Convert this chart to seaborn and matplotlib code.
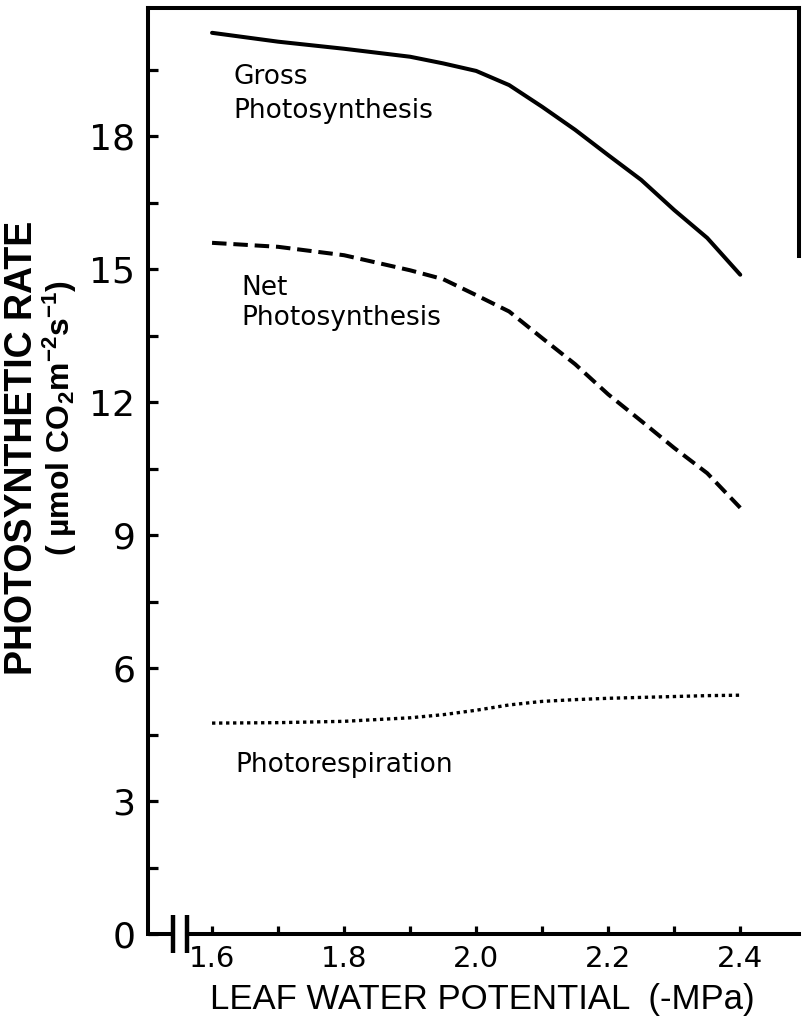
import matplotlib
matplotlib.use("Agg")
import numpy as np
import pandas as pd
import matplotlib.pyplot as plt
import seaborn as sns

# leaf water potential (-MPa)
potential = [1.60, 1.70, 1.80, 1.90, 1.95, 2.00, 2.05, 2.10, 2.15, 2.20, 2.25, 2.30, 2.35, 2.40]

# photosynthetic rates (umol CO2 m-2 s-1)
gross = [20.34, 20.14, 19.98, 19.80, 19.65, 19.48, 19.16, 18.67, 18.15, 17.58, 17.02, 16.34, 15.71, 14.88]
net = [15.60, 15.51, 15.32, 14.98, 14.78, 14.42, 14.05, 13.45, 12.86, 12.18, 11.58, 10.97, 10.40, 9.62]
photoresp = [4.76, 4.77, 4.80, 4.88, 4.95, 5.05, 5.17, 5.25, 5.29, 5.32, 5.34, 5.36, 5.38, 5.39]

y_major = [0, 3, 6, 9, 12, 15, 18]
y_minor = [1.5, 4.5, 7.5, 10.5, 13.5, 16.5, 19.5]
x_major = [1.6, 1.8, 2.0, 2.2, 2.4]
x_minor = [1.7, 1.9, 2.1, 2.3]

df = pd.DataFrame({"potential": potential, "gross": gross, "net": net, "photoresp": photoresp})

sns.set_style("ticks", {"text.color": "black", "xtick.color": "black", "ytick.color": "black",
                        "axes.edgecolor": "black"})
plt.rcParams["font.family"] = ["Liberation Sans", "DejaVu Sans"]
plt.rcParams["mathtext.fontset"] = "custom"
plt.rcParams["mathtext.rm"] = "Liberation Sans:bold"
plt.rcParams["mathtext.bf"] = "Liberation Sans:bold"
plt.rcParams["mathtext.default"] = "regular"

fig = plt.figure(figsize=(8.04, 10.29), dpi=100)
ax = fig.add_axes([148 / 804, 1 - 934 / 1029, (799 - 148) / 804, (934 - 8) / 1029])

# curves
sns.lineplot(data=df, x="potential", y="gross", ax=ax, color="black", linewidth=2.9)
sns.lineplot(data=df, x="potential", y="net", ax=ax, color="black", linewidth=2.9)
ax.lines[-1].set_dashes((3.6, 1.7))
sns.lineplot(data=df, x="potential", y="photoresp", ax=ax, color="black", linewidth=2.4)
ax.lines[-1].set_dashes((1.0, 1.1))

ax.set_xlim(1.503, 2.489)
ax.set_ylim(0, 20.9)

# curve labels
txt = dict(fontsize=19, color="black", family=["DejaVu Sans"], va="baseline", ha="left")
ax.text(1.632, 19.19, "Gross", **txt)
ax.text(1.632, 18.42, "Photosynthesis", **txt)
ax.text(1.645, 14.42, "Net", **txt)
ax.text(1.645, 13.75, "Photosynthesis", **txt)
ax.text(1.636, 3.65, "Photorespiration", **txt)

# ticks
ax.set_yticks(y_major)
ax.set_yticks(y_minor, minor=True)
ax.set_xticks(x_major)
ax.set_xticks(x_minor, minor=True)
ax.set_xticklabels([f"{v:.1f}" for v in x_major])
ax.tick_params(axis="y", which="both", direction="in", length=7, width=2.3,
               labelsize=26, pad=9, colors="black")
ax.tick_params(axis="x", which="both", direction="in", length=6, width=2.3,
               labelsize=21, pad=8, colors="black")
for lab in ax.get_xticklabels() + ax.get_yticklabels():
    lab.set_family(["DejaVu Sans"])
ax.set_xlabel("")
ax.set_ylabel("")

# spines
for s in ax.spines.values():
    s.set_linewidth(2.9)
    s.set_color("black")
ax.spines["right"].set_bounds(15.3, 20.9)
ax.spines["bottom"].set_bounds(1.562, 2.489)

# axis break on x
ax.plot([1.503, 1.541], [0, 0], color="black", lw=2.9, clip_on=False, solid_capstyle="butt")
for xb in [1.541, 1.562]:
    ax.plot([xb, xb], [-0.43, 0.43], color="black", lw=3.2, clip_on=False, solid_capstyle="butt")

# axis labels
fig.text(22 / 804, 1 - 448 / 1029, "PHOTOSYNTHETIC RATE", rotation=90,
         ha="center", va="center", fontsize=27, fontweight="bold")
fig.text(60 / 804, 1 - 418 / 1029, r"( µmol CO$_2$m$^{-2}$s$^{-1}$)", rotation=90,
         ha="center", va="center", fontsize=23, fontweight="bold")
fig.text(482 / 804, 1 - 1000 / 1029, "LEAF WATER POTENTIAL  (-MPa)",
         ha="center", va="center", fontsize=25)

fig.savefig("out.png", dpi=100)
